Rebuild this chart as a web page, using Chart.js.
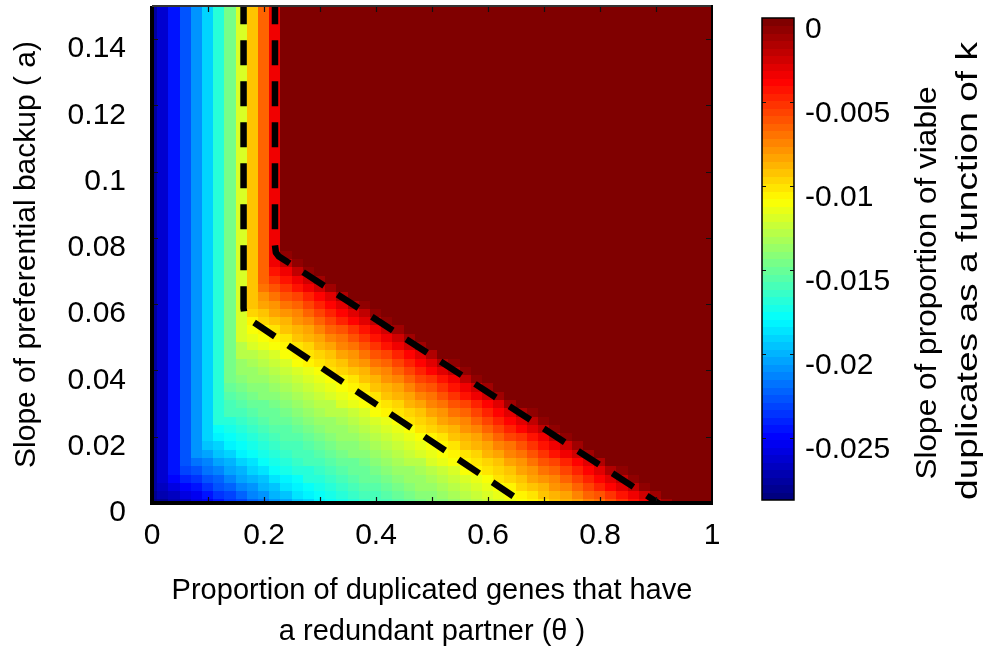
<!DOCTYPE html>
<html><head><meta charset="utf-8">
<script src="https://cdn.jsdelivr.net/npm/chart.js@4.4.1/dist/chart.umd.min.js"></script>
<style>
html,body{margin:0;padding:0;background:#fff;overflow:hidden;}
#main{position:absolute;left:0;top:0;width:986px;height:652px;}
#cbar{position:absolute;left:700px;top:0;width:286px;height:652px;}
</style></head><body>
<div id="main"><canvas id="c1"></canvas></div>
<div id="cbar"><canvas id="c2"></canvas></div>
<script>
// ---------------- data ----------------
const VALUE_UNIT = 1e-3;           // cell values below are stored in thousandths
const thetaValues = [0,0.02,0.04,0.06,0.08,0.1,0.12,0.14,0.16,0.18,0.2,0.22,0.24,0.26,0.28,0.3,0.32,0.34,0.36,0.38,0.4,0.42,0.44,0.46,0.48,0.5,0.52,0.54,0.56,0.58,0.6,0.62,0.64,0.66,0.68,0.7,0.72,0.74,0.76,0.78,0.8,0.82,0.84,0.86,0.88,0.9,0.92,0.94,0.96,0.98,1];
const aValues = [0,0.0025,0.005,0.0075,0.01,0.0125,0.015,0.0175,0.02,0.0225,0.025,0.0275,0.03,0.0325,0.035,0.0375,0.04,0.0425,0.045,0.0475,0.05,0.0525,0.055,0.0575,0.06,0.0625,0.065,0.0675,0.07,0.0725,0.075,0.0775,
  0.08,0.0825,0.085,0.0875,0.09,0.0925,0.095,0.0975,0.1,0.1025,0.105,0.1075,0.11,0.1125,0.115,0.1175,0.12,0.1225,0.125,0.1275,0.13,0.1325,0.135,0.1375,0.14,0.1425,0.145,0.1475,0.15];

// one row of cells per a value (theta from 0 to 1)
const a0000 = [-28.7,-28.0,-27.3,-26.7,-26.0,-25.3,-24.5,-23.7,-23.0,-22.3,-21.6,-20.9,-20.2,-19.6,-18.9,-18.2,-17.7,-17.2,-16.8,-16.4,-16.0,-15.7,-15.4,-15.0,-14.7,-14.3,-14.0,-13.7,-13.3,-12.9,-12.5,-12.0,-11.5,-11.0,-10.5,-10.0,-9.4,-8.8,-8.2,-7.5,-6.8,-6.0,-5.2,-4.3,-3.4,-2.5,-1.0,-0.2,-0.2,-0.2,-0.2];
const a0025 = [-27.9,-27.2,-26.6,-25.9,-25.2,-24.4,-23.6,-22.9,-22.2,-21.5,-20.8,-20.1,-19.5,-18.8,-18.1,-17.6,-17.1,-16.7,-16.3,-16.0,-15.7,-15.3,-15.0,-14.6,-14.3,-14.0,-13.6,-13.2,-12.8,-12.4,-11.9,-11.4,-10.9,-10.4,-9.9,-9.3,-8.7,-8.1,-7.4,-6.7,-5.9,-5.1,-4.2,-3.3,-2.3,-0.9,-0.2,-0.2,-0.2,-0.2,-0.2];
const a0050 = [-27.8,-26.5,-25.8,-25.1,-24.3,-23.5,-22.8,-22.1,-21.4,-20.7,-20.0,-19.4,-18.7,-18.1,-17.6,-17.1,-16.7,-16.3,-15.9,-15.6,-15.3,-14.9,-14.6,-14.2,-13.9,-13.6,-13.2,-12.8,-12.4,-11.9,-11.4,-10.9,-10.4,-9.8,-9.2,-8.6,-8.0,-7.3,-6.6,-5.8,-4.9,-4.0,-3.1,-2.1,-0.8,-0.2,-0.2,-0.2,-0.2,-0.2,-0.2];
const a0075 = [-27.8,-26.1,-24.9,-24.1,-23.4,-22.7,-22.0,-21.3,-20.6,-19.9,-19.3,-18.6,-18.0,-17.5,-17.0,-16.6,-16.2,-15.9,-15.6,-15.2,-14.9,-14.5,-14.2,-13.9,-13.5,-13.1,-12.7,-12.3,-11.8,-11.3,-10.8,-10.3,-9.7,-9.1,-8.5,-7.9,-7.2,-6.4,-5.6,-4.8,-3.9,-3.0,-1.8,-0.6,-0.2,-0.2,-0.2,-0.2,-0.2,-0.2,-0.2];
const a0100 = [-27.8,-26.1,-24.4,-23.3,-22.6,-21.9,-21.2,-20.5,-19.8,-19.2,-18.5,-17.9,-17.4,-17.0,-16.6,-16.2,-15.8,-15.5,-15.2,-14.8,-14.5,-14.1,-13.8,-13.5,-13.1,-12.7,-12.2,-11.7,-11.2,-10.7,-10.2,-9.6,-9.0,-8.4,-7.8,-7.1,-6.3,-5.5,-4.7,-3.8,-2.9,-1.6,-0.5,-0.2,-0.2,-0.2,-0.2,-0.2,-0.2,-0.2,-0.2];
const a0125 = [-27.8,-26.1,-24.4,-22.7,-21.8,-21.1,-20.4,-19.8,-19.1,-18.4,-17.8,-17.3,-16.9,-16.5,-16.1,-15.8,-15.5,-15.1,-14.8,-14.4,-14.1,-13.8,-13.4,-13.0,-12.6,-12.1,-11.6,-11.1,-10.6,-10.1,-9.6,-9.0,-8.4,-7.7,-7.0,-6.2,-5.4,-4.5,-3.6,-2.7,-1.4,-0.4,-0.2,-0.2,-0.2,-0.2,-0.2,-0.2,-0.2,-0.2,-0.2];
const a0150 = [-27.8,-26.1,-24.4,-22.7,-21.0,-20.3,-19.7,-19.0,-18.3,-17.8,-17.3,-16.8,-16.4,-16.0,-15.7,-15.4,-15.0,-14.7,-14.3,-14.0,-13.7,-13.3,-12.9,-12.5,-12.1,-11.6,-11.1,-10.6,-10.1,-9.5,-8.9,-8.3,-7.6,-6.9,-6.1,-5.3,-4.4,-3.5,-2.6,-1.2,-0.3,-0.2,-0.2,-0.2,-0.2,-0.2,-0.2,-0.2,-0.2,-0.2,-0.2];
const a0175 = [-27.8,-26.1,-24.4,-22.7,-20.7,-19.6,-18.9,-18.2,-17.7,-17.2,-16.8,-16.4,-16.0,-15.7,-15.4,-15.0,-14.7,-14.3,-14.0,-13.7,-13.3,-12.9,-12.5,-12.0,-11.5,-11.0,-10.5,-10.0,-9.4,-8.8,-8.2,-7.5,-6.8,-6.0,-5.2,-4.3,-3.4,-2.4,-1.0,-0.2,-0.2,-0.2,-0.2,-0.2,-0.2,-0.2,-0.2,-0.2,-0.2,-0.2,-0.2];
const a0200 = [-27.8,-26.1,-24.4,-22.7,-20.7,-18.9,-18.1,-17.6,-17.1,-16.7,-16.3,-15.9,-15.6,-15.3,-14.9,-14.6,-14.2,-13.9,-13.6,-13.2,-12.8,-12.4,-11.9,-11.4,-10.9,-10.4,-9.9,-9.3,-8.7,-8.1,-7.4,-6.6,-5.8,-5.0,-4.1,-3.2,-2.2,-0.8,-0.2,-0.2,-0.2,-0.2,-0.2,-0.2,-0.2,-0.2,-0.2,-0.2,-0.2,-0.2,-0.2];
const a0225 = [-27.8,-26.1,-24.4,-22.7,-20.7,-18.9,-17.5,-17.1,-16.7,-16.3,-15.9,-15.6,-15.3,-14.9,-14.6,-14.2,-13.9,-13.6,-13.2,-12.8,-12.3,-11.8,-11.3,-10.8,-10.3,-9.8,-9.2,-8.6,-8.0,-7.3,-6.5,-5.7,-4.9,-4.0,-3.1,-2.0,-0.7,-0.2,-0.2,-0.2,-0.2,-0.2,-0.2,-0.2,-0.2,-0.2,-0.2,-0.2,-0.2,-0.2,-0.2];
const a0250 = [-27.8,-26.1,-24.4,-22.7,-20.7,-18.9,-17.0,-16.6,-16.2,-15.9,-15.6,-15.2,-14.9,-14.5,-14.2,-13.9,-13.5,-13.1,-12.7,-12.3,-11.8,-11.3,-10.8,-10.3,-9.7,-9.1,-8.5,-7.9,-7.2,-6.4,-5.6,-4.8,-3.9,-3.0,-1.8,-0.6,-0.2,-0.2,-0.2,-0.2,-0.2,-0.2,-0.2,-0.2,-0.2,-0.2,-0.2,-0.2,-0.2,-0.2,-0.2];
const a0275 = [-27.8,-26.1,-24.4,-22.7,-20.7,-18.9,-16.7,-16.1,-15.8,-15.5,-15.1,-14.8,-14.4,-14.1,-13.8,-13.4,-13.0,-12.6,-12.2,-11.7,-11.2,-10.7,-10.2,-9.6,-9.0,-8.4,-7.7,-7.0,-6.3,-5.5,-4.6,-3.7,-2.8,-1.5,-0.5,-0.2,-0.2,-0.2,-0.2,-0.2,-0.2,-0.2,-0.2,-0.2,-0.2,-0.2,-0.2,-0.2,-0.2,-0.2,-0.2];
const a0300 = [-27.8,-26.1,-24.4,-22.7,-20.7,-18.9,-16.7,-15.8,-15.5,-15.1,-14.8,-14.4,-14.1,-13.8,-13.4,-13.0,-12.6,-12.1,-11.6,-11.1,-10.6,-10.1,-9.5,-8.9,-8.3,-7.6,-6.9,-6.2,-5.4,-4.5,-3.6,-2.7,-1.3,-0.4,-0.2,-0.2,-0.2,-0.2,-0.2,-0.2,-0.2,-0.2,-0.2,-0.2,-0.2,-0.2,-0.2,-0.2,-0.2,-0.2,-0.2];
const a0325 = [-27.8,-26.1,-24.4,-22.7,-20.7,-18.9,-16.7,-15.4,-15.0,-14.7,-14.3,-14.0,-13.7,-13.3,-12.9,-12.5,-12.0,-11.5,-11.0,-10.5,-10.0,-9.4,-8.8,-8.2,-7.5,-6.8,-6.0,-5.2,-4.3,-3.4,-2.5,-1.1,-0.2,-0.2,-0.2,-0.2,-0.2,-0.2,-0.2,-0.2,-0.2,-0.2,-0.2,-0.2,-0.2,-0.2,-0.2,-0.2,-0.2,-0.2,-0.2];
const a0350 = [-27.8,-26.1,-24.4,-22.7,-20.7,-18.9,-16.7,-15.0,-14.7,-14.3,-14.0,-13.7,-13.3,-12.9,-12.5,-12.0,-11.5,-11.0,-10.5,-9.9,-9.3,-8.7,-8.1,-7.4,-6.7,-5.9,-5.1,-4.2,-3.3,-2.4,-0.9,-0.2,-0.2,-0.2,-0.2,-0.2,-0.2,-0.2,-0.2,-0.2,-0.2,-0.2,-0.2,-0.2,-0.2,-0.2,-0.2,-0.2,-0.2,-0.2,-0.2];
const a0375 = [-27.8,-26.1,-24.4,-22.7,-20.7,-18.9,-16.7,-14.6,-14.2,-13.9,-13.6,-13.2,-12.8,-12.4,-11.9,-11.4,-10.9,-10.4,-9.9,-9.3,-8.7,-8.0,-7.3,-6.6,-5.8,-5.0,-4.1,-3.2,-2.1,-0.8,-0.2,-0.2,-0.2,-0.2,-0.2,-0.2,-0.2,-0.2,-0.2,-0.2,-0.2,-0.2,-0.2,-0.2,-0.2,-0.2,-0.2,-0.2,-0.2,-0.2,-0.2];
const a0400 = [-27.8,-26.1,-24.4,-22.7,-20.7,-18.9,-16.7,-14.4,-13.9,-13.5,-13.1,-12.7,-12.3,-11.8,-11.3,-10.8,-10.3,-9.8,-9.2,-8.6,-7.9,-7.2,-6.5,-5.7,-4.8,-3.9,-3.0,-1.9,-0.7,-0.2,-0.2,-0.2,-0.2,-0.2,-0.2,-0.2,-0.2,-0.2,-0.2,-0.2,-0.2,-0.2,-0.2,-0.2,-0.2,-0.2,-0.2,-0.2,-0.2,-0.2,-0.2];
const a0425 = [-27.8,-26.1,-24.4,-22.7,-20.7,-18.9,-16.7,-14.4,-13.5,-13.1,-12.7,-12.2,-11.7,-11.2,-10.7,-10.2,-9.7,-9.1,-8.5,-7.8,-7.1,-6.4,-5.6,-4.7,-3.8,-2.9,-1.7,-0.6,-0.2,-0.2,-0.2,-0.2,-0.2,-0.2,-0.2,-0.2,-0.2,-0.2,-0.2,-0.2,-0.2,-0.2,-0.2,-0.2,-0.2,-0.2,-0.2,-0.2,-0.2,-0.2,-0.2];
const a0450 = [-27.8,-26.1,-24.4,-22.7,-20.7,-18.9,-16.7,-14.4,-13.0,-12.6,-12.2,-11.7,-11.2,-10.7,-10.2,-9.6,-9.0,-8.4,-7.7,-7.0,-6.2,-5.4,-4.6,-3.7,-2.8,-1.5,-0.4,-0.2,-0.2,-0.2,-0.2,-0.2,-0.2,-0.2,-0.2,-0.2,-0.2,-0.2,-0.2,-0.2,-0.2,-0.2,-0.2,-0.2,-0.2,-0.2,-0.2,-0.2,-0.2,-0.2,-0.2];
const a0475 = [-27.8,-26.1,-24.4,-22.7,-20.7,-18.9,-16.7,-14.4,-12.6,-12.1,-11.6,-11.1,-10.6,-10.1,-9.5,-8.9,-8.3,-7.6,-6.9,-6.1,-5.3,-4.4,-3.5,-2.6,-1.2,-0.3,-0.2,-0.2,-0.2,-0.2,-0.2,-0.2,-0.2,-0.2,-0.2,-0.2,-0.2,-0.2,-0.2,-0.2,-0.2,-0.2,-0.2,-0.2,-0.2,-0.2,-0.2,-0.2,-0.2,-0.2,-0.2];
const a0500 = [-27.8,-26.1,-24.4,-22.7,-20.7,-18.9,-16.7,-14.4,-12.0,-11.5,-11.0,-10.5,-10.0,-9.4,-8.8,-8.2,-7.5,-6.8,-6.0,-5.2,-4.3,-3.4,-2.5,-1.0,-0.2,-0.2,-0.2,-0.2,-0.2,-0.2,-0.2,-0.2,-0.2,-0.2,-0.2,-0.2,-0.2,-0.2,-0.2,-0.2,-0.2,-0.2,-0.2,-0.2,-0.2,-0.2,-0.2,-0.2,-0.2,-0.2,-0.2];
const a0525 = [-27.8,-26.1,-24.4,-22.7,-20.7,-18.9,-16.7,-14.4,-12.0,-10.9,-10.4,-9.9,-9.3,-8.7,-8.1,-7.4,-6.7,-5.9,-5.1,-4.2,-3.3,-2.3,-0.9,-0.2,-0.2,-0.2,-0.2,-0.2,-0.2,-0.2,-0.2,-0.2,-0.2,-0.2,-0.2,-0.2,-0.2,-0.2,-0.2,-0.2,-0.2,-0.2,-0.2,-0.2,-0.2,-0.2,-0.2,-0.2,-0.2,-0.2,-0.2];
const a0550 = [-27.8,-26.1,-24.4,-22.7,-20.7,-18.9,-16.7,-14.4,-12.0,-10.4,-9.8,-9.2,-8.6,-8.0,-7.3,-6.6,-5.8,-4.9,-4.0,-3.1,-2.1,-0.8,-0.2,-0.2,-0.2,-0.2,-0.2,-0.2,-0.2,-0.2,-0.2,-0.2,-0.2,-0.2,-0.2,-0.2,-0.2,-0.2,-0.2,-0.2,-0.2,-0.2,-0.2,-0.2,-0.2,-0.2,-0.2,-0.2,-0.2,-0.2,-0.2];
const a0575 = [-27.8,-26.1,-24.4,-22.7,-20.7,-18.9,-16.7,-14.4,-12.0,-9.7,-9.1,-8.5,-7.9,-7.2,-6.4,-5.6,-4.8,-3.9,-3.0,-1.8,-0.6,-0.2,-0.2,-0.2,-0.2,-0.2,-0.2,-0.2,-0.2,-0.2,-0.2,-0.2,-0.2,-0.2,-0.2,-0.2,-0.2,-0.2,-0.2,-0.2,-0.2,-0.2,-0.2,-0.2,-0.2,-0.2,-0.2,-0.2,-0.2,-0.2,-0.2];
const a0600 = [-27.8,-26.1,-24.4,-22.7,-20.7,-18.9,-16.7,-14.4,-12.0,-9.3,-8.4,-7.8,-7.1,-6.3,-5.5,-4.7,-3.8,-2.9,-1.6,-0.5,-0.2,-0.2,-0.2,-0.2,-0.2,-0.2,-0.2,-0.2,-0.2,-0.2,-0.2,-0.2,-0.2,-0.2,-0.2,-0.2,-0.2,-0.2,-0.2,-0.2,-0.2,-0.2,-0.2,-0.2,-0.2,-0.2,-0.2,-0.2,-0.2,-0.2,-0.2];
const a0625 = [-27.8,-26.1,-24.4,-22.7,-20.7,-18.9,-16.7,-14.4,-12.0,-9.3,-7.7,-7.0,-6.2,-5.4,-4.5,-3.6,-2.7,-1.4,-0.4,-0.2,-0.2,-0.2,-0.2,-0.2,-0.2,-0.2,-0.2,-0.2,-0.2,-0.2,-0.2,-0.2,-0.2,-0.2,-0.2,-0.2,-0.2,-0.2,-0.2,-0.2,-0.2,-0.2,-0.2,-0.2,-0.2,-0.2,-0.2,-0.2,-0.2,-0.2,-0.2];
const a0650 = [-27.8,-26.1,-24.4,-22.7,-20.7,-18.9,-16.7,-14.4,-12.0,-9.3,-6.9,-6.1,-5.3,-4.4,-3.5,-2.6,-1.2,-0.3,-0.2,-0.2,-0.2,-0.2,-0.2,-0.2,-0.2,-0.2,-0.2,-0.2,-0.2,-0.2,-0.2,-0.2,-0.2,-0.2,-0.2,-0.2,-0.2,-0.2,-0.2,-0.2,-0.2,-0.2,-0.2,-0.2,-0.2,-0.2,-0.2,-0.2,-0.2,-0.2,-0.2];
const a0675 = [-27.8,-26.1,-24.4,-22.7,-20.7,-18.9,-16.7,-14.4,-12.0,-9.3,-6.5,-5.2,-4.3,-3.4,-2.4,-1.0,-0.2,-0.2,-0.2,-0.2,-0.2,-0.2,-0.2,-0.2,-0.2,-0.2,-0.2,-0.2,-0.2,-0.2,-0.2,-0.2,-0.2,-0.2,-0.2,-0.2,-0.2,-0.2,-0.2,-0.2,-0.2,-0.2,-0.2,-0.2,-0.2,-0.2,-0.2,-0.2,-0.2,-0.2,-0.2];
const a0700 = [-27.8,-26.1,-24.4,-22.7,-20.7,-18.9,-16.7,-14.4,-12.0,-9.3,-6.5,-4.1,-3.2,-2.2,-0.8,-0.2,-0.2,-0.2,-0.2,-0.2,-0.2,-0.2,-0.2,-0.2,-0.2,-0.2,-0.2,-0.2,-0.2,-0.2,-0.2,-0.2,-0.2,-0.2,-0.2,-0.2,-0.2,-0.2,-0.2,-0.2,-0.2,-0.2,-0.2,-0.2,-0.2,-0.2,-0.2,-0.2,-0.2,-0.2,-0.2];
const a0725 = [-27.8,-26.1,-24.4,-22.7,-20.7,-18.9,-16.7,-14.4,-12.0,-9.3,-6.5,-3.3,-2.0,-0.7,-0.2,-0.2,-0.2,-0.2,-0.2,-0.2,-0.2,-0.2,-0.2,-0.2,-0.2,-0.2,-0.2,-0.2,-0.2,-0.2,-0.2,-0.2,-0.2,-0.2,-0.2,-0.2,-0.2,-0.2,-0.2,-0.2,-0.2,-0.2,-0.2,-0.2,-0.2,-0.2,-0.2,-0.2,-0.2,-0.2,-0.2];
const a0750 = [-27.8,-26.1,-24.4,-22.7,-20.7,-18.9,-16.7,-14.4,-12.0,-9.3,-6.5,-3.3,-0.6,-0.2,-0.2,-0.2,-0.2,-0.2,-0.2,-0.2,-0.2,-0.2,-0.2,-0.2,-0.2,-0.2,-0.2,-0.2,-0.2,-0.2,-0.2,-0.2,-0.2,-0.2,-0.2,-0.2,-0.2,-0.2,-0.2,-0.2,-0.2,-0.2,-0.2,-0.2,-0.2,-0.2,-0.2,-0.2,-0.2,-0.2,-0.2];
// every row from a = 0.0775 up to a = 0.15 shows the same vertical stripes
const aUpper = [-27.8,-26.1,-24.4,-22.7,-20.7,-18.9,-16.7,-14.4,-12.0,-9.3,-6.5,-3.3,-0.2,-0.2,-0.2,-0.2,-0.2,-0.2,-0.2,-0.2,-0.2,-0.2,-0.2,-0.2,-0.2,-0.2,-0.2,-0.2,-0.2,-0.2,-0.2,-0.2,-0.2,-0.2,-0.2,-0.2,-0.2,-0.2,-0.2,-0.2,-0.2,-0.2,-0.2,-0.2,-0.2,-0.2,-0.2,-0.2,-0.2,-0.2,-0.2];
const cellRows = [a0000,a0025,a0050,a0075,a0100,a0125,a0150,a0175,a0200,a0225,a0250,a0275,a0300,a0325,a0350,a0375,
  a0400,a0425,a0450,a0475,a0500,a0525,a0550,a0575,a0600,a0625,a0650,a0675,a0700,a0725,a0750,
  aUpper,aUpper,aUpper,aUpper,aUpper,aUpper,aUpper,aUpper,aUpper,aUpper,aUpper,aUpper,aUpper,aUpper,aUpper,
  aUpper,aUpper,aUpper,aUpper,aUpper,aUpper,aUpper,aUpper,aUpper,aUpper,aUpper,aUpper,aUpper,aUpper,aUpper];

// dashed contour lines (theta, a)
const upperContourTheta = [0.2196,0.2196,0.2212,0.226,0.913];
const upperContourA     = [0.152,0.0778,0.0756,0.0745,-0.001];
const lowerContourTheta = [0.1635,0.1635,0.1652,0.169,0.175,0.672];
const lowerContourA     = [0.152,0.0588,0.0568,0.0559,0.0553,-0.001];

// ticks
const thetaTickValues = [0,0.2,0.4,0.6,0.8,1];
const thetaTickLabels = ['0','0.2','0.4','0.6','0.8','1'];
const thetaTickMarks  = [0.1,0.2,0.3,0.4,0.5,0.6,0.7,0.8,0.9];
const aTickValues = [0,0.02,0.04,0.06,0.08,0.1,0.12,0.14];
const aTickLabels = ['0','0.02','0.04','0.06','0.08','0.1','0.12','0.14'];
const cbarTickValues = [-0.025,-0.02,-0.015,-0.01,-0.005,0];
const cbarTickLabels = ['-0.025','-0.02','-0.015','-0.01','-0.005','0'];
const C_MIN = -0.0287, C_MAX = 0;

// ---------------- helpers ----------------
const FONT = "'Liberation Sans', Arial, Helvetica, sans-serif";
function clamp01(v){return Math.max(0,Math.min(1,v));}
function jetColor(idx){ // MATLAB jet, 64 levels
  const x = idx/63;
  const r = clamp01(1.5-Math.abs(4*x-3)), g = clamp01(1.5-Math.abs(4*x-2)), b = clamp01(1.5-Math.abs(4*x-1));
  return 'rgb('+Math.round(r*255)+','+Math.round(g*255)+','+Math.round(b*255)+')';
}
function colorFor(v){
  const t = (v-C_MIN)/(C_MAX-C_MIN);
  const idx = Math.max(0,Math.min(63,Math.floor(t*64)));
  return jetColor(idx);
}
const THETA_STEP = thetaValues[1]-thetaValues[0];
const A_STEP = aValues[1]-aValues[0];
function noPad(s){ s.paddingTop=0; s.paddingBottom=0; s.paddingLeft=0; s.paddingRight=0; }

const heatmapPlugin = {
  id:'heatmap',
  beforeDatasetsDraw(chart){
    const {ctx, chartArea:ca, scales:{x,y}} = chart;
    ctx.save();
    ctx.beginPath(); ctx.rect(ca.left,ca.top,ca.right-ca.left,ca.bottom-ca.top); ctx.clip();
    const n = Math.min(aValues.length, cellRows.length);
    for(let i=0;i<n;i++){
      const row = cellRows[i];
      const yT = y.getPixelForValue(aValues[i]+A_STEP/2), yB = y.getPixelForValue(aValues[i]-A_STEP/2);
      for(let j=0;j<thetaValues.length && j<row.length;j++){
        const x0 = x.getPixelForValue(thetaValues[j]-THETA_STEP/2), x1 = x.getPixelForValue(thetaValues[j]+THETA_STEP/2);
        ctx.fillStyle = colorFor(row[j]*VALUE_UNIT);
        ctx.fillRect(Math.floor(x0),Math.floor(yT),Math.ceil(x1)-Math.floor(x0),Math.ceil(yB)-Math.floor(yT));
      }
    }
    ctx.restore();
  }
};
const framePlugin = {
  id:'frame',
  afterDatasetsDraw(chart){
    const {ctx, chartArea:ca, scales:{x,y}} = chart;
    ctx.save();
    ctx.strokeStyle='#111'; ctx.lineWidth=1.2;
    ctx.beginPath();
    thetaTickMarks.forEach(v=>{const px=Math.round(x.getPixelForValue(v))+0.5;
      ctx.moveTo(px,ca.bottom); ctx.lineTo(px,ca.bottom-6); ctx.moveTo(px,ca.top); ctx.lineTo(px,ca.top+6);});
    aTickValues.forEach(v=>{const py=Math.round(y.getPixelForValue(v))+0.5;
      ctx.moveTo(ca.left,py); ctx.lineTo(ca.left+6,py); ctx.moveTo(ca.right,py); ctx.lineTo(ca.right-6,py);});
    ctx.stroke();
    ctx.fillStyle='#000';
    ctx.fillRect(ca.left-2,ca.top,4,ca.bottom-ca.top+2);      // left
    ctx.fillRect(ca.left-2,ca.bottom-2,ca.right-ca.left+3,4);  // bottom
    ctx.fillStyle='#333';
    ctx.fillRect(ca.left,ca.top-1,ca.right-ca.left,2);         // top
    ctx.fillStyle='#000';
    ctx.fillRect(ca.right-1,ca.top-1,2,ca.bottom-ca.top+2);    // right
    ctx.restore();
  }
};
function pts(xs,ys){return xs.map((v,i)=>({x:v,y:ys[i]}));}
const lineStyle = {showLine:true,borderColor:'#000',backgroundColor:'#000',borderWidth:6.5,borderDash:[25,16],
  borderCapStyle:'butt',borderJoinStyle:'round',pointRadius:0,tension:0,fill:false};

new Chart(document.getElementById('c1'),{
  type:'scatter',
  data:{datasets:[
    Object.assign({label:'upper contour',data:pts(upperContourTheta,upperContourA)},lineStyle),
    Object.assign({label:'lower contour',data:pts(lowerContourTheta,lowerContourA)},lineStyle)
  ]},
  options:{
    responsive:true,maintainAspectRatio:false,animation:false,events:[],
    layout:{autoPadding:false,padding:{left:0,right:274,top:6,bottom:0}},
    plugins:{legend:{display:false},tooltip:{enabled:false}},
    scales:{
      x:{type:'linear',min:0,max:1,grid:{display:false},border:{display:false},
        afterBuildTicks:s=>{s.ticks=thetaTickValues.map(v=>({value:v}));},
        ticks:{autoSkip:false,maxRotation:0,padding:7,color:'#000',font:{family:FONT,size:30},
          callback:(v,i)=>thetaTickLabels[i]},
        title:{display:true,text:['Proportion of duplicated genes that have','a redundant partner (\u03B8 )'],
          color:'#000',font:{family:FONT,size:29,lineHeight:'41px'},padding:{top:0,bottom:0}},
        afterFit:s=>{s.height=149; noPad(s);}},
      y:{type:'linear',min:0,max:0.15,grid:{display:false},border:{display:false},
        afterBuildTicks:s=>{s.ticks=aTickValues.map(v=>({value:v}));},
        ticks:{autoSkip:false,padding:18,labelOffset:10,color:'#000',font:{family:FONT,size:30},
          callback:(v,i)=>aTickLabels[i]},
        title:{display:true,text:'Slope of preferential backup ( a)',color:'#000',
          font:{family:FONT,size:30},padding:{top:9,bottom:0}},
        afterFit:s=>{s.width=152; noPad(s);}}
    }
  },
  plugins:[heatmapPlugin,framePlugin]
});

const colorbarPlugin = {
  id:'colorbar',
  beforeDatasetsDraw(chart){
    const {ctx, chartArea:ca, scales:{y}} = chart;
    ctx.save();
    for(let k=0;k<64;k++){
      const v0 = C_MIN+(C_MAX-C_MIN)*k/64, v1 = C_MIN+(C_MAX-C_MIN)*(k+1)/64;
      const yb = y.getPixelForValue(v0), yt = y.getPixelForValue(v1);
      ctx.fillStyle = jetColor(k);
      ctx.fillRect(ca.left,Math.floor(yt),ca.right-ca.left,Math.ceil(yb)-Math.floor(yt));
    }
    ctx.strokeStyle='#111'; ctx.lineWidth=1;
    ctx.beginPath();
    cbarTickValues.forEach(v=>{const py=Math.round(y.getPixelForValue(v))+0.5;
      if(py<ca.top+2) return;
      ctx.moveTo(ca.left,py); ctx.lineTo(ca.left+4,py); ctx.moveTo(ca.right,py); ctx.lineTo(ca.right-4,py);});
    ctx.stroke();
    ctx.lineWidth=1.5; ctx.strokeStyle='#000';
    ctx.strokeRect(ca.left,ca.top,ca.right-ca.left,ca.bottom-ca.top);
    ctx.restore();
  },
  afterDraw(chart){
    const ctx = chart.ctx;
    const lines = [
      {text:'Slope of proportion of viable', cx:228, cy:283, len:393},
      {text:'duplicates as a function of k', cx:269, cy:271, len:458}
    ];
    ctx.save();
    ctx.fillStyle='#000'; ctx.font='30px '+FONT; ctx.textAlign='center'; ctx.textBaseline='middle';
    lines.forEach(l=>{
      const w = ctx.measureText(l.text).width;
      ctx.save(); ctx.translate(l.cx,l.cy); ctx.rotate(-Math.PI/2); ctx.scale(l.len/w,1);
      ctx.fillText(l.text,0,0); ctx.restore();
    });
    ctx.restore();
  }
};

new Chart(document.getElementById('c2'),{
  type:'scatter',
  data:{datasets:[{data:[]}]},
  options:{
    responsive:true,maintainAspectRatio:false,animation:false,events:[],
    layout:{autoPadding:false,padding:{left:62,right:0,top:18,bottom:152}},
    plugins:{legend:{display:false},tooltip:{enabled:false}},
    scales:{
      x:{display:false,min:0,max:1},
      y:{position:'right',min:C_MIN,max:C_MAX,grid:{display:false},border:{display:false},
        afterBuildTicks:s=>{s.ticks=cbarTickValues.map(v=>({value:v}));},
        ticks:{autoSkip:false,padding:3,labelOffset:12,color:'#000',font:{family:FONT,size:30},
          callback:(v,i)=>cbarTickLabels[i]},
        afterFit:s=>{s.width=192; noPad(s);}}
    }
  },
  plugins:[colorbarPlugin]
});
</script></body></html>
